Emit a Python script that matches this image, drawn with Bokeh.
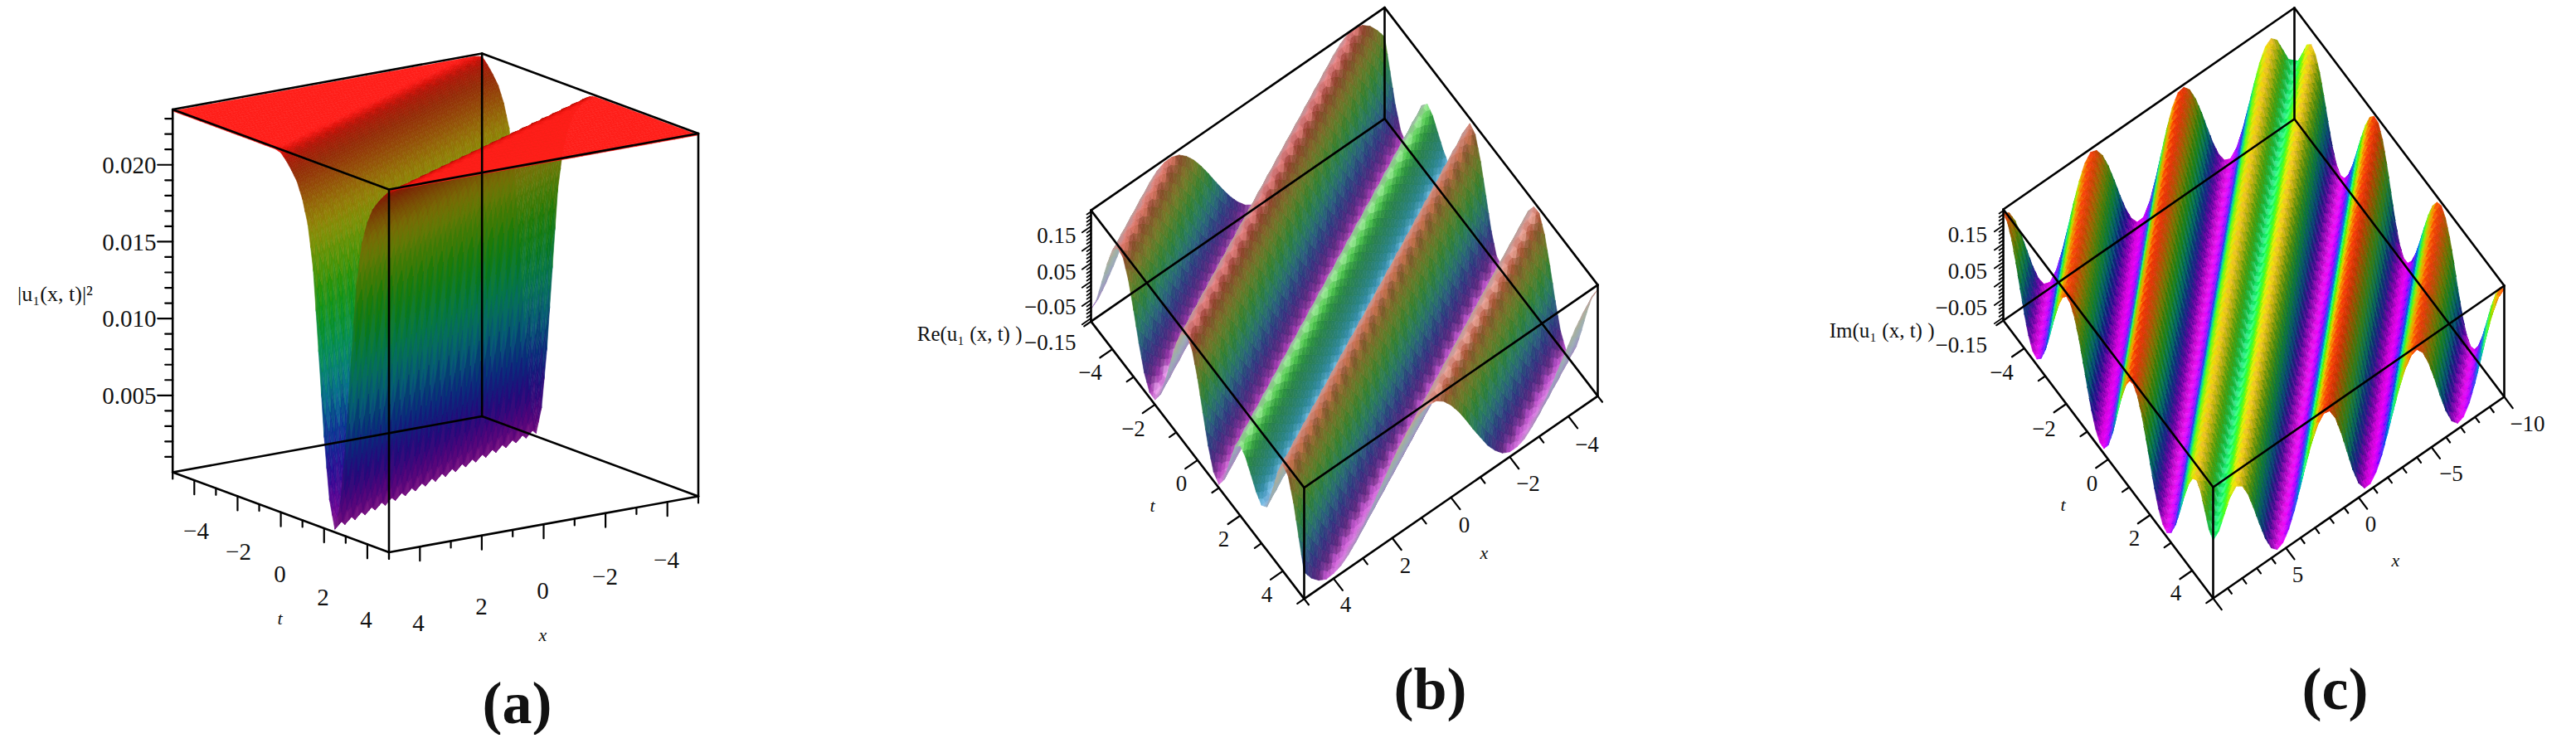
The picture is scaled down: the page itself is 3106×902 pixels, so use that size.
import numpy as np
from bokeh.plotting import figure
from bokeh.models import ColumnDataSource
from bokeh.core.properties import value
from bokeh.embed import file_html
from bokeh.resources import INLINE

# ---- read-off data -------------------------------------------------------
# the three surfaces only depend on xi = x - 2 t
XI_STEP_A = 0.25   # |xi| = 0, 0.25, ...
mod2_vs_abs_xi = [0.0002, 0.0007, 0.0020, 0.0037, 0.0060, 0.0086, 0.0114, 0.0141, 0.0166,
                  0.0182, 0.0194, 0.0203, 0.0209, 0.0214, 0.0219, 0.0222, 0.0225, 0.0228,
                  0.0230, 0.0233, 0.0234, 0.0235, 0.0235, 0.0235, 0.0235]
mod2_min, mod2_max = 0.0, 0.0236

XI_STEP_B = 0.25   # xi = -15, -14.75, ... 15; fraction of the box height
re_levels = [0.96,
             .91, .84, .75, .64,  .53, .41, .30, .20,  .13, .07, .045, .045,
             .08, .15, .24, .36,  .48, .61, .73, .83,  .91, .96, .97, .955,
             .917, .857, .78, .687,  .586, .48, .375, .277,  .19, .12, .07, .045,
             .04, .075, .14, .24,  .36, .49, .62, .74,  .84, .92, .955, .955,
             .91, .82, .71, .59,  .47, .39, .345, .343,  .36, .40, .44, .495,
             .545, .59, .62, .63,  .614, .557, .465, .353,  .238, .137, .064, .03,
             .04, .08, .15, .25,  .364, .49, .617, .736,  .84, .923, .977, 1.0,
             .99, .95, .887, .80,  .695, .58, .46, .347,  .24, .152, .085, .044,
             .03, .046, .09, .163,  .255, .364, .48, .60,  .713, .813, .893, .95,
             .977, .975, .944, .886,  .804, .70, .59, .473,  .356, .25, .16, .11]

XI_STEP_C = 0.4    # |xi| = 0, 0.4, ... 20; fraction of the box height
im_levels = [.52, .571, .695, .819, .87, .83, .719, .556, .375, .209, .09, .04, .065, .155,
             .295, .466, .642, .80, .917, .975, .962, .861, .691, .487, .285, .129, .048,
             .052, .122, .245, .405, .579, .742, .872, .951, .97, .907, .778, .602, .409,
             .234, .108, .052, .074, .165, .313, .492, .673, .828, .933, .97]

t_ticks = [-5, -4, -3, -2, -1, 0, 1, 2, 3, 4, 5]
x_ticks_ab = [5, 4, 3, 2, 1, 0, -1, -2, -3, -4, -5]
x_ticks_c = list(range(10, -11, -1))
z_ticks_a = [round(0.001 * i, 3) for i in range(1, 24)]
z_ticks_bc = [round(-0.10 + 0.01 * i, 2) for i in range(0, 30)]

p = figure(width=3090, height=886, x_range=(8, 3098), y_range=(894, 8),
           output_backend="svg", toolbar_location=None, min_border=0)
p.xaxis.visible = False
p.yaxis.visible = False
p.grid.visible = False
p.outline_line_color = None
p.background_fill_color = "white"

LILAC = np.array([0.72, 0.60, 0.74])


def hsv(h, s):
    h = (h % 360) / 60.0
    c = s
    x = c * (1 - np.abs(h % 2 - 1))
    m = 1 - c
    z = np.zeros_like(h)
    sel = np.floor(h).astype(int) % 6
    r = np.choose(sel, [c, x, z, z, x, c]) + m
    g = np.choose(sel, [x, c, c, x, z, z]) + m
    b = np.choose(sel, [z, z, x, c, c, x]) + m
    return np.stack([r, g, b], axis=-1)


def node_rgb(L, s, st):
    aq = np.abs(s)
    f = np.minimum(1, aq / st["s0"])
    if "low_dark" in st:
        f = np.where((L < st["low_dark"]) & (s <= 0), 1.0, f)
    wide = s > 0
    sat = np.where(wide, 1 - (1 - st["S_wide"]) * f, 1 - (1 - st["S_thin"]) * f)
    val = np.where(wide, 1 - st["k_wide"] * f, 1 - st["k_thin"] * f)
    wh = st["white"] * np.maximum(0, 1 - aq / st["s1"]) ** 2
    off = st.get("hue_off", 0.0)
    rgb = hsv(300 * (1 - np.clip((L - off) / (1 - off), 0, 1)), sat) * val[..., None]
    rgb = rgb * (1 - wh[..., None]) + wh[..., None]
    mix = (st.get("mix", 0.0) * f * (~wide))[..., None]
    return rgb * (1 - mix) + LILAC * mix


def bary_tris(n):
    out = []
    for i in range(n):
        for j in range(n - i):
            out.append(((i, j), (i + 1, j), (i, j + 1)))
            if i + j < n - 1:
                out.append(((i + 1, j), (i + 1, j + 1), (i, j + 1)))
    return [[(a / n, b / n, 1 - (a + b) / n) for a, b in tri] for tri in out]


def draw_surface(front, ex, et, ez, xr, tr, x_nodes, t_nodes, level_of, dxi, style, diag, sub):
    front = np.array(front, float)
    ex, et, ez = map(lambda v: np.array(v, float), (ex, et, ez))
    X, T = np.meshgrid(x_nodes, t_nodes, indexing="ij")
    L = level_of(X, T)
    S = (level_of(X + dxi, T) - level_of(X - dxi, T)) / (2 * dxi)
    RGB = node_rgb(L, S, style)
    FX = (xr[1] - X) / (xr[1] - xr[0])
    FT = (T - tr[0]) / (tr[1] - tr[0])
    U = front[0] + ex[0] * FX + et[0] * (FT - 1) + ez[0] * L
    V = front[1] + ex[1] * FX + et[1] * (FT - 1) + ez[1] * L
    n = np.cross([ex[0], et[0], ez[0]], [ex[1], et[1], ez[1]])
    if n[2] < 0:
        n = -n
    D = n[0] * FX + n[1] * FT + n[2] * L
    nx, nt = X.shape
    i, j = np.meshgrid(np.arange(nx - 1), np.arange(nt - 1), indexing="ij")
    i, j = i.ravel(), j.ravel()
    if diag == 0:
        tris = [((i, j), (i + 1, j), (i + 1, j + 1)), ((i, j), (i + 1, j + 1), (i, j + 1))]
    else:
        tris = [((i, j), (i + 1, j), (i, j + 1)), ((i + 1, j), (i + 1, j + 1), (i, j + 1))]
    fine = bary_tris(sub)
    xs, ys, cols, deps = [], [], [], []
    for a, b, c in tris:
        ids = (a, b, c)
        pu = np.stack([U[q] for q in ids], axis=1)
        pv = np.stack([V[q] for q in ids], axis=1)
        cc = np.stack([RGB[q] for q in ids], axis=1)
        dp = np.stack([D[q] for q in ids], axis=1).mean(axis=1)
        delta = (cc.max(axis=1) - cc.min(axis=1)).max(axis=1)
        small = delta < 0.03
        groups = [(small, [[(1, 0, 0), (0, 1, 0), (0, 0, 1)]]), (~small, fine)]
        for mask, tl in groups:
            if not mask.any():
                continue
            for tri in tl:
                w = np.array(tri)
                qu = pu[mask] @ w.T
                qv = pv[mask] @ w.T
                col = (cc[mask].transpose(0, 2, 1) @ w.T).mean(axis=2)
                rgb8 = np.clip(col * 255, 0, 255).astype(int)
                cols.extend("#%02x%02x%02x" % tuple(q) for q in rgb8)
                xs.extend(np.round(qu, 1).tolist())
                ys.extend(np.round(qv, 1).tolist())
                deps.extend(dp[mask].tolist())
    order = np.argsort(deps, kind="stable")
    src = ColumnDataSource(dict(xs=[xs[k] for k in order], ys=[ys[k] for k in order],
                                c=[cols[k] for k in order]))
    p.patches("xs", "ys", source=src, fill_color="c", line_color="c", line_width=0.6)


def seg(x0, y0, x1, y1, w):
    p.segment(x0, y0, x1, y1, line_color="black", line_width=w, line_cap="round")


def draw_box(front, ex, et, ez, w=2.6):
    f = np.array(front, float)
    ex, et, ez = map(lambda v: np.array(v, float), (ex, et, ez))
    fb, rb = f, f + ex
    lb, bb = f - et, f + ex - et
    base = [fb, rb, bb, lb]
    for k in range(4):
        a, b = base[k], base[(k + 1) % 4]
        seg([a[0]], [a[1]], [b[0]], [b[1]], w)
        seg([a[0] + ez[0]], [a[1] + ez[1]], [b[0] + ez[0]], [b[1] + ez[1]], w)
        seg([a[0]], [a[1]], [a[0] + ez[0]], [a[1] + ez[1]], w)


def edge_ticks(start, vec, rng, ticks, major, dirn, l_major, l_minor, w=2.2):
    start = np.array(start, float)
    vec = np.array(vec, float)
    dirn = np.array(dirn, float)
    dirn = dirn / np.hypot(*dirn)
    x0, y0, x1, y1 = [], [], [], []
    for v in ticks:
        fr = (v - rng[0]) / (rng[1] - rng[0])
        q = start + vec * fr
        ln = l_major if major(v) else l_minor
        x0.append(q[0]); y0.append(q[1])
        x1.append(q[0] + dirn[0] * ln); y1.append(q[1] + dirn[1] * ln)
    seg(x0, y0, x1, y1, w)


def text(xs, ys, labels, size, font="Liberation Serif", style="normal", align="center"):
    p.text(xs, ys, text=labels, text_font=value(font), text_font_size=f"{size}px",
           text_font_style=style, text_align=align, text_baseline="middle", text_color="#111111")


# ---- panel (a) -----------------------------------------------------------
fa, exa, eta, eza = (476.5, 673.5), (373, -67.5), (260.8, 96.5), (0, -437.5)
nodes_a = np.arange(-5, 5.001, 0.25)


def level_a(X, T):
    idx = np.minimum(np.rint(np.abs(X - 2 * T) / XI_STEP_A).astype(int), len(mod2_vs_abs_xi) - 1)
    return (np.array(mod2_vs_abs_xi)[idx] - mod2_min) / (mod2_max - mod2_min)


style_a = dict(s0=.05, s1=.03, k_wide=.42, k_thin=.52, S_wide=.95, S_thin=.95, white=.1, low_dark=.12)
draw_surface(fa, exa, eta, eza, (-5, 5), (-5, 5), nodes_a, nodes_a, level_a, 0.25, style_a, 0, 2)
draw_box(fa, exa, eta, eza)
lb_a = (fa[0] - eta[0], fa[1] - eta[1])
edge_ticks(lb_a, eta, (-5, 5), t_ticks, lambda v: v % 2 == 0, (0, 1), 17, 8)
edge_ticks(fa, exa, (5, -5), x_ticks_ab, lambda v: v % 2 == 0, (0, 1), 17, 8)
edge_ticks(lb_a, (0, eza[1]), (mod2_min, mod2_max), z_ticks_a,
           lambda v: round(v * 1000) % 5 == 0, (-1, 0), 18, 9)
text([196] * 4, [484.6, 392, 299.8, 207.4], ["0.005", "0.010", "0.015", "0.020"], 29, align="right")
text([244, 295, 345, 397, 449], [648, 673, 700, 728, 755], ["−4", "−2", "0", "2", "4"], 29)
text([512, 588, 662, 737, 811], [759, 739, 720, 703, 683], ["4", "2", "0", "−2", "−4"], 29)
text([345], [753], ["t"], 22, style="italic")
text([662], [773], ["x"], 22, style="italic")
text([74], [362], ["|u₁(x, t)|²"], 26)
text([631], [855], ["(a)"], 72, style="bold")

# ---- panel (b) -----------------------------------------------------------
fb, exb, etb, ezb = (1580, 729.6), (354, -244.5), (257, 334.5), (0, -134)
nodes_b = np.arange(-5, 5.001, 0.25)


def level_b(X, T):
    idx = np.clip(np.rint((X - 2 * T + 15) / XI_STEP_B).astype(int), 0, len(re_levels) - 1)
    return np.array(re_levels)[idx]


style_b = dict(s0=.18, s1=.18, k_wide=.5, k_thin=.25, S_wide=.68, S_thin=.3, white=.72, mix=.45,
               hue_off=.03)
draw_surface(fb, exb, etb, ezb, (-5, 5), (-5, 5), nodes_b, nodes_b, level_b, 0.25, style_b, 0, 2)
draw_box(fb, exb, etb, ezb)
lb_b = (fb[0] - etb[0], fb[1] - etb[1])
minus_ex_b = (-exb[0], -exb[1])
edge_ticks(lb_b, etb, (-5, 5), t_ticks, lambda v: v % 2 == 0, minus_ex_b, 18, 10)
edge_ticks(fb, exb, (5, -5), x_ticks_ab, lambda v: v % 2 == 0, etb, 18, 9)
edge_ticks(lb_b, (0, ezb[1]), (-0.1085, 0.1935), z_ticks_bc,
           lambda v: abs(round(v * 100)) % 5 == 0, minus_ex_b, 13, 6, w=1.8)
text([1305] * 4, [291.7, 335, 377, 420], ["0.15", "0.05", "−0.05", "−0.15"], 27, align="right")
text([1322, 1374, 1432, 1483, 1535], [456, 524, 590, 657, 724], ["−4", "−2", "0", "2", "4"], 27)
text([1630, 1702, 1773, 1850, 1921], [736, 689, 640, 590, 543], ["4", "2", "0", "−2", "−4"], 27)
text([1397], [617], ["t"], 22, style="italic")
text([1797], [674], ["x"], 22, style="italic")
text([1240], [410], ["Re(u₁ (x, t) )"], 25, align="right")
text([1732], [838], ["(b)"], 72, style="bold")

# ---- panel (c) -----------------------------------------------------------
fc, exc, etc, ezc = (2676, 729), (351, -243), (253, 335), (0, -134)
nodes_cx = np.arange(-10, 10.001, 0.4)
nodes_ct = np.arange(-5, 5.001, 0.2)


def level_c(X, T):
    idx = np.minimum(np.rint(np.abs(X - 2 * T) / XI_STEP_C).astype(int), len(im_levels) - 1)
    return np.array(im_levels)[idx]


style_c = dict(s0=.35, s1=.1, k_wide=.5, k_thin=.0, S_wide=1.0, S_thin=1.0, white=.3, hue_off=.07)
draw_surface(fc, exc, etc, ezc, (-10, 10), (-5, 5), nodes_cx, nodes_ct, level_c, 0.4, style_c, 1, 2)
draw_box(fc, exc, etc, ezc)
lb_c = (fc[0] - etc[0], fc[1] - etc[1])
minus_ex_c = (-exc[0], -exc[1])
edge_ticks(lb_c, etc, (-5, 5), t_ticks, lambda v: v % 2 == 0, minus_ex_c, 18, 10)
edge_ticks(fc, exc, (10, -10), x_ticks_c, lambda v: v % 5 == 0, etc, 17, 8)
edge_ticks(lb_c, (0, ezc[1]), (-0.1085, 0.1935), z_ticks_bc,
           lambda v: abs(round(v * 100)) % 5 == 0, minus_ex_c, 13, 6, w=1.8)
text([2403.6] * 4, [290.6, 334, 378, 423], ["0.15", "0.05", "−0.05", "−0.15"], 27, align="right")
text([2421, 2472, 2530, 2581, 2631], [456, 524, 590, 656, 722], ["−4", "−2", "0", "2", "4"], 27)
text([2778, 2866, 2963, 3055], [700, 639, 578, 518], ["5", "0", "−5", "−10"], 27)
text([2495], [616], ["t"], 22, style="italic")
text([2896], [683], ["x"], 22, style="italic")
text([2340], [406], ["Im(u₁ (x, t) )"], 25, align="right")
text([2823], [838], ["(c)"], 72, style="bold")

open("out.html", "w").write(file_html(p, INLINE))
